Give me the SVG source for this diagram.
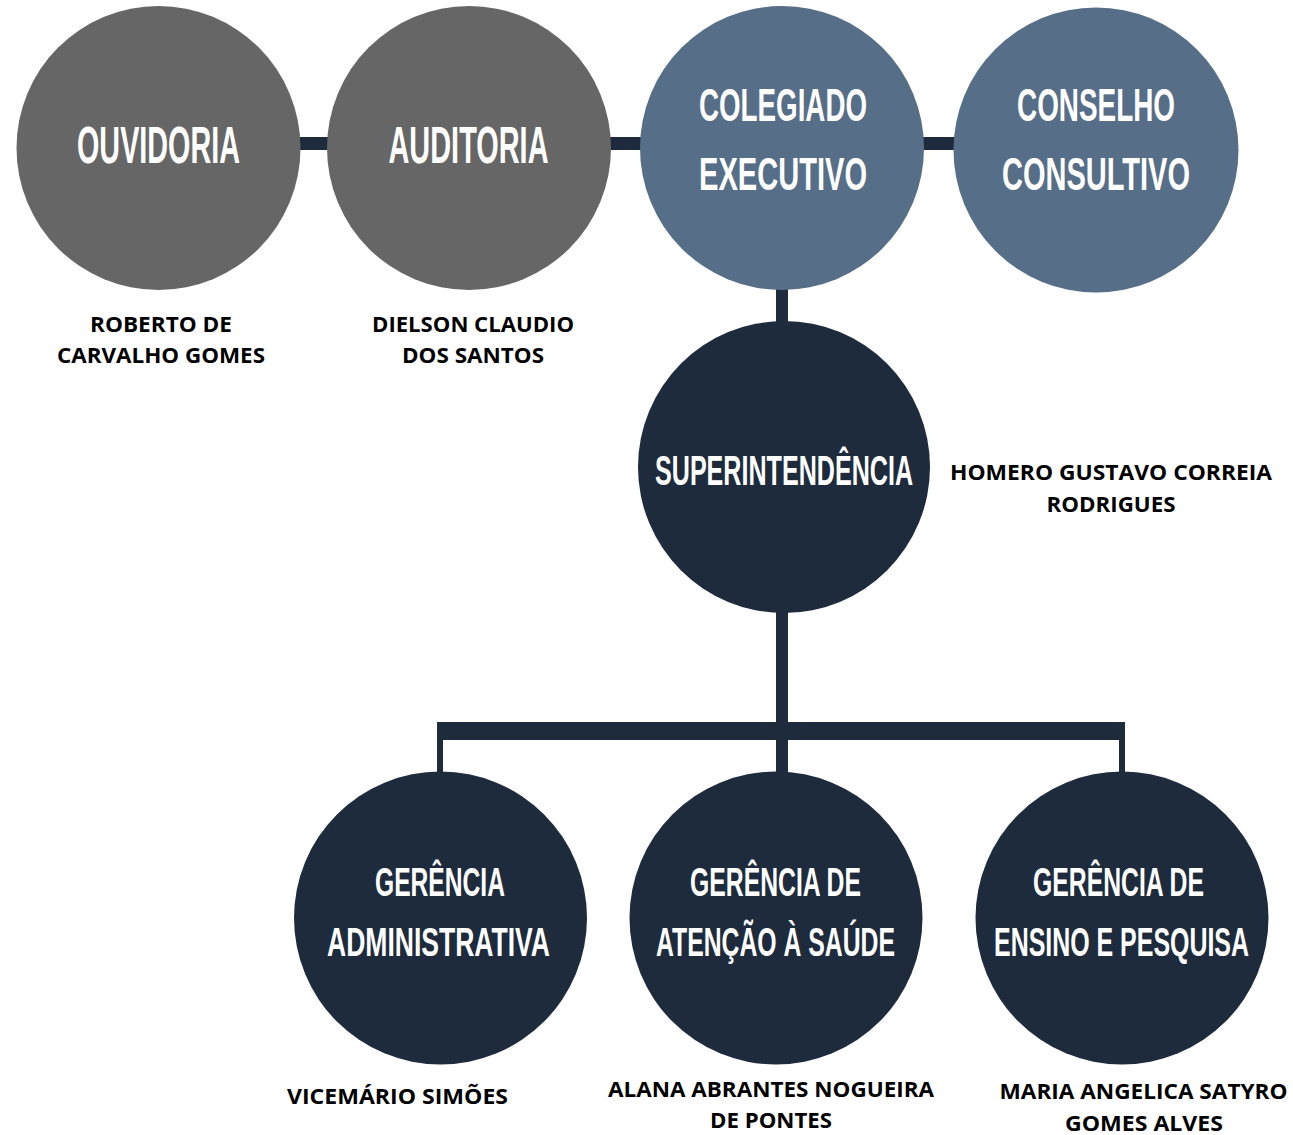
<svg xmlns="http://www.w3.org/2000/svg" width="1293" height="1135" viewBox="0 0 1293 1135">
<style>
.gray{fill:#666666}
.slate{fill:#566e87}
.navy{fill:#1d2b3d}
.conn{fill:#1d2b3d}
.h{font-family:"Liberation Sans Narrow","Liberation Sans","DejaVu Sans Condensed",sans-serif;font-weight:bold;fill:#ffffff;text-anchor:middle}
.n{font-family:"Open Sans","Liberation Sans",sans-serif;font-weight:bold;font-size:21px;fill:#000000;text-anchor:middle}
</style>
<rect width="1293" height="1135" fill="#ffffff"/>
<g id="connectors">
<rect class="conn" x="159" y="137" width="937" height="13"/>
<rect class="conn" x="776" y="285" width="12" height="45"/>
<rect class="conn" x="776" y="600" width="12" height="130"/>
<rect class="conn" x="437" y="722" width="688" height="18"/>
<rect class="conn" x="437" y="730" width="6" height="50"/>
<rect class="conn" x="776" y="730" width="12" height="50"/>
<rect class="conn" x="1119" y="730" width="6" height="50"/>
</g>
<g id="ouvidoria">
<circle class="gray" cx="158.5" cy="148" r="142"/>
<text class="h" transform="translate(158.5 163) scale(0.6 1)" font-size="52" textLength="271.7" lengthAdjust="spacingAndGlyphs">OUVIDORIA</text>
<text class="n" x="161" y="332" textLength="142" lengthAdjust="spacingAndGlyphs">ROBERTO DE</text>
<text class="n" x="161" y="363" textLength="208" lengthAdjust="spacingAndGlyphs">CARVALHO GOMES</text>
</g>
<g id="auditoria">
<circle class="gray" cx="469" cy="148" r="142"/>
<text class="h" transform="translate(468.5 163) scale(0.6 1)" font-size="52" textLength="266.7" lengthAdjust="spacingAndGlyphs">AUDITORIA</text>
<text class="n" x="473" y="332" textLength="202" lengthAdjust="spacingAndGlyphs">DIELSON CLAUDIO</text>
<text class="n" x="473" y="363" textLength="142" lengthAdjust="spacingAndGlyphs">DOS SANTOS</text>
</g>
<g id="colegiado">
<circle class="slate" cx="782" cy="148" r="142"/>
<text class="h" transform="translate(783 121) scale(0.6 1)" font-size="47" textLength="280" lengthAdjust="spacingAndGlyphs">COLEGIADO</text>
<text class="h" transform="translate(783 190) scale(0.6 1)" font-size="47" textLength="280" lengthAdjust="spacingAndGlyphs">EXECUTIVO</text>
</g>
<g id="conselho">
<circle class="slate" cx="1096" cy="150" r="142.5"/>
<text class="h" transform="translate(1096 121) scale(0.6 1)" font-size="47" textLength="263.3" lengthAdjust="spacingAndGlyphs">CONSELHO</text>
<text class="h" transform="translate(1096 190) scale(0.6 1)" font-size="47" textLength="313.3" lengthAdjust="spacingAndGlyphs">CONSULTIVO</text>
</g>
<g id="superintendencia">
<circle class="navy" cx="784" cy="467" r="146"/>
<text class="h" transform="translate(784 485) scale(0.6 1)" font-size="42" textLength="430" lengthAdjust="spacingAndGlyphs">SUPERINTENDÊNCIA</text>
<text class="n" x="1111" y="480" textLength="322" lengthAdjust="spacingAndGlyphs">HOMERO GUSTAVO CORREIA</text>
<text class="n" x="1111" y="512" textLength="129" lengthAdjust="spacingAndGlyphs">RODRIGUES</text>
</g>
<g id="gerencia-administrativa">
<circle class="navy" cx="440.5" cy="918" r="146.5"/>
<text class="h" transform="translate(440 896) scale(0.6 1)" font-size="40" textLength="216.7" lengthAdjust="spacingAndGlyphs">GERÊNCIA</text>
<text class="h" transform="translate(438.5 956) scale(0.6 1)" font-size="40" textLength="371.7" lengthAdjust="spacingAndGlyphs">ADMINISTRATIVA</text>
<text class="n" x="397.5" y="1104" textLength="221" lengthAdjust="spacingAndGlyphs">VICEMÁRIO SIMÕES</text>
</g>
<g id="gerencia-atencao">
<circle class="navy" cx="776" cy="918" r="146.5"/>
<text class="h" transform="translate(775.5 896) scale(0.6 1)" font-size="40" textLength="285" lengthAdjust="spacingAndGlyphs">GERÊNCIA DE</text>
<text class="h" transform="translate(775.5 956) scale(0.6 1)" font-size="40" textLength="398.3" lengthAdjust="spacingAndGlyphs">ATENÇÃO À SAÚDE</text>
<text class="n" x="771" y="1097" textLength="326" lengthAdjust="spacingAndGlyphs">ALANA ABRANTES NOGUEIRA</text>
<text class="n" x="771" y="1128" textLength="122" lengthAdjust="spacingAndGlyphs">DE PONTES</text>
</g>
<g id="gerencia-ensino">
<circle class="navy" cx="1122" cy="918" r="146.5"/>
<text class="h" transform="translate(1118.5 896) scale(0.6 1)" font-size="40" textLength="285" lengthAdjust="spacingAndGlyphs">GERÊNCIA DE</text>
<text class="h" transform="translate(1121.5 956) scale(0.6 1)" font-size="40" textLength="425" lengthAdjust="spacingAndGlyphs">ENSINO E PESQUISA</text>
<text class="n" x="1143.5" y="1099" textLength="288" lengthAdjust="spacingAndGlyphs">MARIA ANGELICA SATYRO</text>
<text class="n" x="1144" y="1131" textLength="158" lengthAdjust="spacingAndGlyphs">GOMES ALVES</text>
</g>
</svg>
